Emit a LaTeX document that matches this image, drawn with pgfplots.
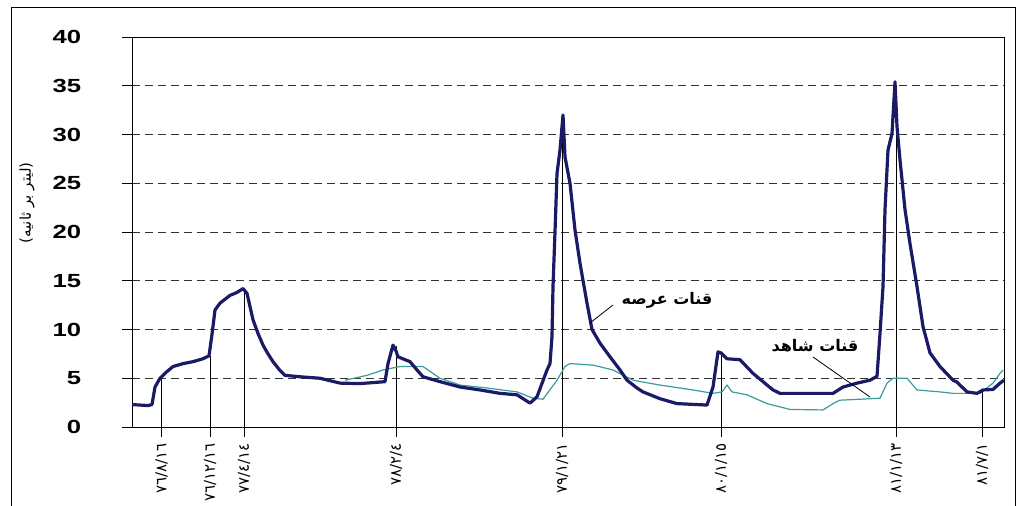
\documentclass[border=0pt]{standalone}
\usepackage{pgfplots}
\pgfplotsset{compat=1.18}
\usepackage{fontspec}
\setmainfont{Liberation Sans}
\setsansfont{Liberation Sans}
\newfontfamily\arabicfont[Script=Arabic]{DejaVu Sans}
\TeXXeTstate=1
\definecolor{navy}{HTML}{1A1A66}
\definecolor{tealc}{HTML}{3A9C9C}
\pgfplotstableread{
x y
132 2.3
148 2.2
152 2.3
155 4.1
160 5.0
166 5.6
173 6.2
183 6.5
193 6.7
203 7.0
209 7.3
212 9.5
215 12.0
220 12.7
230 13.5
237 13.8
243 14.2
247 13.7
253 11.0
258 9.6
263 8.4
268 7.5
273 6.7
280 5.8
285 5.3
300 5.15
320 5.0
340 4.5
360 4.45
385 4.65
388 6.5
393 8.4
396 7.8
398 7.2
410 6.7
417 5.85
423 5.15
440 4.65
460 4.1
480 3.8
500 3.45
517 3.3
530 2.45
537 3.1
547 5.85
550 6.5
552 9.3
553 14.4
555 20
557 26
560 28.4
563 32
565 27.7
570 25
575 20.2
580 16.8
587 12.7
592 10
600 8.6
610 7.2
620 5.85
627 4.8
637 4.0
643 3.6
660 2.9
677 2.4
707 2.25
713 4.1
718 7.7
721 7.6
727 7.0
740 6.9
753 5.5
773 3.8
780 3.45
833 3.45
843 4.1
857 4.5
870 4.8
877 5.2
880 9.6
883 14.4
885 22.3
888 28.4
892 30.1
895 35.4
897 30.8
900 27.4
905 22.3
910 18.8
917 14.4
923 10.3
930 7.6
940 6.2
953 4.8
957 4.6
967 3.6
977 3.45
983 3.8
993 3.85
1000 4.5
1004 4.8
}\arseh
\pgfplotstableread{
x y
345 4.8
367 5.3
383 5.85
400 6.2
423 6.2
440 5.0
460 4.3
487 4.0
517 3.6
533 2.95
543 2.85
557 4.8
565 6.2
570 6.5
593 6.35
613 5.85
633 4.8
660 4.3
693 3.8
713 3.45
722 3.6
727 4.3
732 3.6
747 3.3
767 2.4
790 1.8
823 1.75
833 2.4
840 2.75
880 2.95
887 4.5
893 5.0
907 5.0
917 3.8
940 3.6
953 3.45
980 3.45
993 4.5
1000 5.5
1003 5.85
}\shahed
\pgfplotstableread{
x y
161.7 5.1
210 7.3
244 14.2
396 8.3
562 31
721 7.6
896 35
982 3.8
}\drops
\begin{document}
\begin{tikzpicture}
\useasboundingbox (0pt,0pt) rectangle (1018pt,506pt);
\fill[white] (0pt,0pt) rectangle (1018pt,506pt);
\draw[black, line width=0.8pt] (11pt,-5pt) -- (11pt,499pt) -- (1015pt,499pt) -- (1015pt,-5pt);
\begin{axis}[
  at={(132pt,79pt)}, anchor=south west,
  scale only axis, width=872pt, height=390pt,
  xmin=132, xmax=1004, ymin=0, ymax=40,
  axis line style={black, line width=0.8pt},
  ytick={0,5,...,40},
  xtick={161.7,210,244,396,562,721,896,982},
  xticklabels={٧٦/٨/١٦,٧٦/١٢/١٦,٧٧/٤/١٤,٧٨/٢/٤,٧٩/١/٢١,٨٠/١/١٥,٨١/١/١٣,٨١/٧/١},
  tick align=outside, major tick length=10pt,
  tick style={black, line width=0.7pt},
  xtick pos=bottom, ytick pos=left,
  ymajorgrids,
  major grid style={black!80, line width=0.7pt, dash pattern=on 8pt off 5pt},
  yticklabel style={font=\fontsize{19}{19}\selectfont\bfseries, anchor=east, inner sep=0pt, xscale=1.35, xshift=-30pt},
  xticklabel style={font=\arabicfont\fontsize{15}{15}\selectfont, yshift=-6pt, rotate=90, anchor=east, inner sep=0pt},
  /pgf/number format/assume math mode=true,
  clip=false,
]
\addplot[ycomb, black, line width=0.7pt, mark=none] table {\drops};
\addplot[tealc, line width=1.2pt, mark=none] table {\shahed};
\addplot[navy, line width=3.2pt, mark=none, line join=round] table {\arseh};
\end{axis}
\draw[black, line width=0.8pt] (613pt,201pt) -- (590pt,183pt);
\node[font=\arabicfont\bfseries\fontsize{16}{16}\selectfont, anchor=center] at (667pt,206pt) {\beginR قنات عرصه\endR};
\draw[black, line width=0.8pt] (813pt,149pt) -- (870pt,109pt);
\node[font=\arabicfont\bfseries\fontsize{16}{16}\selectfont, anchor=center] at (815pt,160pt) {\beginR قنات شاهد\endR};
\node[font=\arabicfont\fontsize{15}{15}\selectfont, rotate=90] at (27pt,303pt) {\beginR(لیتر بر ثانیه)\endR};
\end{tikzpicture}
\end{document}
